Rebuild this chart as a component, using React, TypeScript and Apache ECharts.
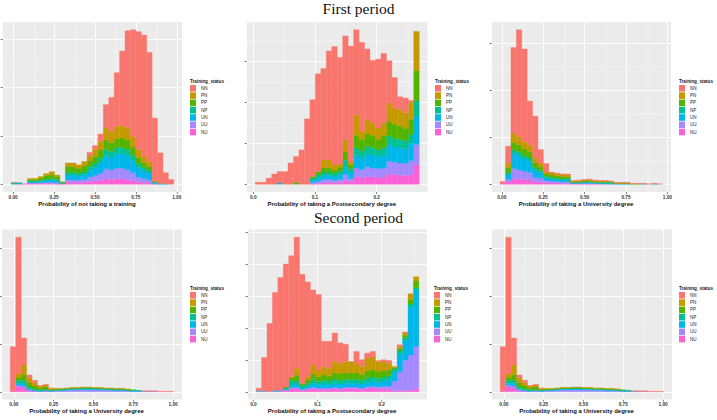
import React, { useEffect, useRef } from "react";
import * as echarts from "echarts";

const STATUS = ["NN", "PN", "PP", "NP", "UN", "UU", "NU"];
const COLORS = ["#F8766D", "#C49A00", "#53B400", "#00C094", "#00B6EB", "#A58AFF", "#FB61D7"];

// ---- Panel 1: Probability of not taking a training (first period)
const p1BinStart = -0.012;
const p1BinWidth = 0.03313;
const p1NN = [1,0,0,0,0,0,0,0,0,0, 0,0,0,0,6,8,15,48,70,111, 154,201,221,244,251,226,130,63,23,10];
const p1PN = [0,0,0,2,2,3,4,6,3,1, 7,8,7,9,12,14,18,25,24,26, 26,25,22,17,13,10,1,0,0,0];
const p1PP = [0,0,0,3,3,5,7,8,6,1, 12,11,10,12,11,14,16,20,18,18, 20,20,17,12,10,8,1,1,0,0];
const p1NP = [1,1,0,2,2,2,3,3,3,1, 6,6,6,6,8,9,10,12,12,12, 13,12,10,8,7,6,1,0,0,0];
const p1UN = [2,1,0,2,2,3,4,5,4,1, 10,10,8,10,14,17,22,28,26,30, 30,30,26,20,16,14,2,1,1,0];
const p1UU = [0,0,0,1,1,1,2,2,2,0, 5,5,5,6,9,11,15,20,20,22, 22,20,16,10,8,6,1,0,0,0];
const p1NU = [0,1,1,2,2,2,2,2,1,1, 4,4,4,4,6,7,8,12,10,12, 11,10,8,5,4,3,1,0,0,0];

// ---- Panel 2: Probability of taking a Postsecondary degree (first period)
const p2BinStart = 0.0032;
const p2BinWidth = 0.00886;
const p2NN = [5,5,15,25,27,31,52,63,84,160, 188,239,223,266,290,260,254,282,208,217, 173,153,168,170,103,74,31,36,4,0];
const p2PN = [0,0,0,0,0,0,0,0,0,0, 0,0,20,20,12,8,30,8,50,20, 35,30,28,30,45,40,40,38,42,96];
const p2PP = [0,0,0,0,0,0,0,5,0,0, 4,8,10,10,8,10,20,10,30,28, 30,30,26,30,35,35,33,30,37,74];
const p2NP = [0,0,0,0,0,0,0,0,0,0, 5,8,8,8,8,8,15,10,20,18, 18,18,16,18,22,20,20,20,22,37];
const p2UN = [0,0,0,0,4,0,0,0,0,0, 6,8,10,10,9,12,20,14,30,28, 32,32,30,32,40,38,38,36,42,70];
const p2UU = [0,0,0,0,0,0,0,0,0,0, 3,5,8,8,6,8,14,8,22,20, 24,22,22,22,32,30,30,30,34,49];
const p2NU = [0,0,0,0,0,0,0,0,0,0, 1,2,4,4,4,4,10,6,18,16, 19,18,16,18,25,24,22,21,24,48];

// ---- Panel 3: Probability of taking a University degree (first period)
const p3BinStart = -0.010;
const p3BinWidth = 0.0327;
const p3NN = [4,36,182,227,197,93,89,29,17,1, 1,1,2,1,1,1,1,1,1,1, 1,1,1,1,1,1,1,1,1,1];
const p3PN = [0,10,20,18,16,15,10,8,5,5, 5,4,4,1,2,2,2,2,1,1, 1,1,1,1,0,0,0,0,0,0];
const p3PP = [0,10,15,15,14,13,10,8,5,5, 5,5,4,2,2,2,2,2,2,2, 1,1,1,1,1,1,0,0,0,0];
const p3NP = [0,5,8,8,7,7,5,4,3,3, 3,3,3,1,1,1,2,1,1,2, 2,0,0,0,0,0,0,0,0,0];
const p3UN = [0,10,32,30,26,24,16,12,6,5, 4,4,4,1,1,2,2,1,1,1, 1,1,1,1,0,0,1,0,1,0];
const p3UU = [0,5,22,20,18,16,10,8,5,4, 3,3,3,1,1,1,1,1,1,1, 1,0,0,0,0,0,0,0,0,0];
const p3NU = [2,5,12,11,10,9,5,5,3,3, 3,2,2,1,1,1,1,1,1,0, 0,0,0,0,0,0,0,0,0,0];

// ---- Panels 4 and 6: Probability of taking a University degree (second period; both panels look identical)
const p4BinStart = -0.022;
const p4BinWidth = 0.0342;
const p4NN = [92,284,56,6,5,1,1,1,0,0, 0,0,0,0,0,0,0,0,0,0, 0,0,0,0,1,1,1,1,1,1];
const p4PN = [0,8,20,10,6,3,4,2,1,1, 1,1,1,1,1,1,1,1,1,1, 1,1,0,0,0,0,0,0,0,0];
const p4PP = [0,6,12,9,7,5,5,2,2,1, 1,1,1,1,1,1,1,1,1,1, 1,1,1,0,0,0,0,0,0,0];
const p4NP = [0,6,6,3,2,2,2,1,1,1, 1,1,1,2,2,1,1,1,1,1, 1,1,1,1,0,0,0,0,0,0];
const p4UN = [0,4,6,3,2,1,1,1,1,2, 2,2,2,2,2,2,2,2,2,2, 2,1,1,1,1,0,0,0,0,0];
const p4UU = [0,4,4,2,1,1,1,1,2,2, 3,4,4,4,4,4,4,3,3,2, 2,2,1,1,0,1,1,0,0,0];
const p4NU = [2,10,8,2,1,0,1,0,0,0, 0,0,0,0,0,0,0,0,0,0, 0,0,0,0,0,0,0,0,0,0];

// ---- Panel 5: Probability of taking a Postsecondary degree (second period)
const p5BinStart = 0.0042;
const p5BinWidth = 0.00846;
const p5NN = [8,104,214,306,353,385,379,410,342,297, 235,237,79,84,89,64,54,0,37,21, 16,16,3,5,9,0,5,3,0,0];
const p5PN = [0,0,0,0,0,0,4,22,2,10, 28,20,25,24,35,33,36,36,30,25, 39,40,31,29,21,3,6,7,17,13];
const p5PP = [0,0,0,0,0,3,8,18,4,10, 18,16,18,16,20,20,20,20,20,18, 22,24,22,20,18,5,8,8,15,21];
const p5NP = [0,0,0,0,0,3,14,10,8,8, 12,10,12,12,14,12,12,12,12,12, 14,14,12,12,12,8,10,8,10,10];
const p5UN = [1,1,0,3,2,3,8,10,5,8, 12,10,12,10,12,12,12,12,12,12, 14,14,14,16,20,30,55,62,150,174];
const p5UU = [2,2,0,2,1,2,3,4,2,3, 4,4,4,4,4,4,5,5,5,4, 6,6,6,8,10,30,60,95,110,132];
const p5NU = [0,0,0,0,2,4,10,10,5,8, 10,8,8,8,10,8,10,10,10,8, 10,12,10,10,8,3,3,4,5,10];

// ---- Axis breaks
const quarterTicks = [0, 0.25, 0.5, 0.75, 1];
const quarterMinor = [0.125, 0.375, 0.625, 0.875];
const tenthTicks = [0, 0.1, 0.2];
const tenthMinor = [0.05, 0.15, 0.25];
const yMajor = [0, 100, 200, 300, 400, 500];
const yMinor = [50, 150, 250, 350, 450];

const TITLE_UNIV = "Probability of taking a University degree";
const TITLE_POST = "Probability of taking a Postsecondary degree";
const TITLE_NOT = "Probability of not taking a training";

type Panel = {
  values: number[][];
  binStart: number;
  binWidth: number;
  xMin: number;
  xMax: number;
  ticks: number[];
  minor: number[];
  decimals: number;
  title: string;
  left: number;
  top: number;
  width: number;
  height: number;
  legendLeft: number;
  legendTop: number;
};

const ROW1 = 22;
const ROW2 = 229.5;
const H = 170;

const panels: Panel[] = [
  { values: [p1NN, p1PN, p1PP, p1NP, p1UN, p1UU, p1NU], binStart: p1BinStart, binWidth: p1BinWidth,
    xMin: -0.062, xMax: 1.032, ticks: quarterTicks, minor: quarterMinor, decimals: 2, title: TITLE_NOT,
    left: 3, top: ROW1, width: 179, height: H, legendLeft: 190, legendTop: 85 },
  { values: [p2NN, p2PN, p2PP, p2NP, p2UN, p2UU, p2NU], binStart: p2BinStart, binWidth: p2BinWidth,
    xMin: -0.0101, xMax: 0.2824, ticks: tenthTicks, minor: tenthMinor, decimals: 1, title: TITLE_POST,
    left: 247, top: ROW1, width: 180.5, height: H, legendLeft: 435, legendTop: 85 },
  { values: [p3NN, p3PN, p3PP, p3NP, p3UN, p3UU, p3NU], binStart: p3BinStart, binWidth: p3BinWidth,
    xMin: -0.059, xMax: 1.022, ticks: quarterTicks, minor: quarterMinor, decimals: 2, title: TITLE_UNIV,
    left: 492, top: ROW1, width: 179, height: H, legendLeft: 679, legendTop: 85 },
  { values: [p4NN, p4PN, p4PP, p4NP, p4UN, p4UU, p4NU], binStart: p4BinStart, binWidth: p4BinWidth,
    xMin: -0.074, xMax: 1.056, ticks: quarterTicks, minor: quarterMinor, decimals: 2, title: TITLE_UNIV,
    left: 2, top: ROW2, width: 180, height: H, legendLeft: 190, legendTop: 292 },
  { values: [p5NN, p5PN, p5PP, p5NP, p5UN, p5UU, p5NU], binStart: p5BinStart, binWidth: p5BinWidth,
    xMin: -0.0085, xMax: 0.2707, ticks: tenthTicks, minor: tenthMinor, decimals: 1, title: TITLE_POST,
    left: 248, top: ROW2, width: 179, height: H, legendLeft: 434, legendTop: 292 },
  { values: [p4NN, p4PN, p4PP, p4NP, p4UN, p4UU, p4NU], binStart: p4BinStart, binWidth: p4BinWidth,
    xMin: -0.074, xMax: 1.056, ticks: quarterTicks, minor: quarterMinor, decimals: 2, title: TITLE_UNIV,
    left: 492, top: ROW2, width: 180, height: H, legendLeft: 679, legendTop: 292 },
];

const FONT = "'Liberation Sans', Arial, Helvetica, sans-serif";

function renderBar(params: any, api: any) {
  const a = api.coord([api.value(0), api.value(3)]);
  const b = api.coord([api.value(1), api.value(2)]);
  const color = api.visual("color");
  return {
    type: "rect",
    shape: { x: a[0], y: a[1], width: b[0] - a[0], height: b[1] - a[1] },
    style: { fill: color, stroke: color, lineWidth: 0.35 },
  };
}

function buildOption() {
  const grid: any[] = [];
  const xAxis: any[] = [];
  const yAxis: any[] = [];
  const series: any[] = [];
  const legend: any[] = [];
  const title: any[] = [
    { text: "First period", left: "center", top: 0, padding: 0,
      textStyle: { fontFamily: "'Liberation Serif', 'DejaVu Serif', serif", fontSize: 15.5, fontWeight: "normal", color: "#111", lineHeight: 16 } },
    { text: "Second period", left: "center", top: 209, padding: 0,
      textStyle: { fontFamily: "'Liberation Serif', 'DejaVu Serif', serif", fontSize: 15.5, fontWeight: "normal", color: "#111", lineHeight: 16 } },
  ];

  panels.forEach((p, i) => {
    const n = p.values[0].length;
    const totals = Array.from({ length: n }, (_, k) => p.values.reduce((s, arr) => s + arr[k], 0));
    const peak = Math.max(...totals);
    const yMin = -0.05 * peak;
    const yMax = 1.05 * peak;

    grid.push({ left: p.left, top: p.top, width: p.width, height: p.height, show: true,
      backgroundColor: "#EBEBEB", borderWidth: 0, z: 0 });

    xAxis.push({
      type: "value", gridIndex: i, min: p.xMin, max: p.xMax,
      axisLine: { show: false, onZero: false },
      axisTick: { show: true, length: 2, lineStyle: { color: "#333", width: 0.6 }, customValues: p.ticks },
      axisLabel: { show: true, customValues: p.ticks, margin: 2.5, fontSize: 4.7, color: "#333",
        fontFamily: FONT, fontWeight: "bold", formatter: (v: number) => v.toFixed(p.decimals) },
      splitLine: { show: false },
      name: p.title, nameLocation: "middle", nameGap: 8.5,
      nameTextStyle: { fontSize: 6, fontWeight: "bold", color: "#111", fontFamily: FONT, padding: [0, 11, 0, 0] },
    });

    const yt = yMajor.filter((v) => v >= yMin && v <= yMax);
    yAxis.push({
      type: "value", gridIndex: i, min: yMin, max: yMax,
      axisLine: { show: false, onZero: false },
      axisTick: { show: true, length: 2.5, lineStyle: { color: "#333", width: 0.6 }, customValues: yt },
      axisLabel: { show: false },
      splitLine: { show: false },
    });

    // gridlines (under the bars)
    const lines: any[] = [];
    p.ticks.forEach((v) => lines.push({ xAxis: v, lineStyle: { color: "#fff", width: 0.9, type: "solid" } }));
    p.minor.filter((v) => v > p.xMin && v < p.xMax)
      .forEach((v) => lines.push({ xAxis: v, lineStyle: { color: "#fff", width: 0.45, type: "solid" } }));
    yt.forEach((v) => lines.push({ yAxis: v, lineStyle: { color: "#fff", width: 0.9, type: "solid" } }));
    yMinor.filter((v) => v > yMin && v < yMax)
      .forEach((v) => lines.push({ yAxis: v, lineStyle: { color: "#fff", width: 0.45, type: "solid" } }));
    series.push({
      type: "line", xAxisIndex: i, yAxisIndex: i, data: [], silent: true, z: 1,
      markLine: { silent: true, symbol: "none", z: 1, label: { show: false }, animation: false, data: lines },
    });

    // stacked histogram: NU at bottom ... NN at top
    const cum = new Array(n).fill(0);
    [6, 5, 4, 3, 2, 1, 0].forEach((s) => {
      const data: number[][] = [];
      p.values[s].forEach((v, k) => {
        if (v > 0) {
          const x0 = p.binStart + k * p.binWidth;
          data.push([x0, x0 + p.binWidth, cum[k], cum[k] + v]);
        }
        cum[k] += v;
      });
      series.push({
        type: "custom", name: STATUS[s], xAxisIndex: i, yAxisIndex: i, z: 10,
        itemStyle: { color: COLORS[s] }, renderItem: renderBar,
        encode: { x: [0, 1], y: [2, 3] }, data, clip: true,
      });
    });

    legend.push({
      left: p.legendLeft, top: p.legendTop, orient: "vertical", data: STATUS, icon: "rect",
      itemWidth: 6, itemHeight: 6.6, itemGap: 0.7, padding: 0, selectedMode: false,
      textStyle: { fontSize: 4.5, color: "#222", fontFamily: FONT },
    });
    title.push({
      text: "Training_status", left: p.legendLeft, top: p.legendTop - 6.5, padding: 0,
      textStyle: { fontSize: 4.6, fontWeight: "bold", color: "#222", fontFamily: FONT, lineHeight: 5 },
    });
  });

  return {
    animation: false,
    backgroundColor: "#fff",
    textStyle: { fontFamily: FONT },
    title, grid, xAxis, yAxis, series, legend,
  };
}

export default function App() {
  const ref = useRef<HTMLDivElement>(null);
  useEffect(() => {
    const chart = echarts.init(ref.current!, null, { renderer: "svg" });
    chart.setOption(buildOption() as any);
    return () => chart.dispose();
  }, []);
  return (
    <div
      ref={ref}
      style={{ position: "absolute", left: 0, top: 0, width: 717, height: 420, background: "#fff" }}
    />
  );
}
